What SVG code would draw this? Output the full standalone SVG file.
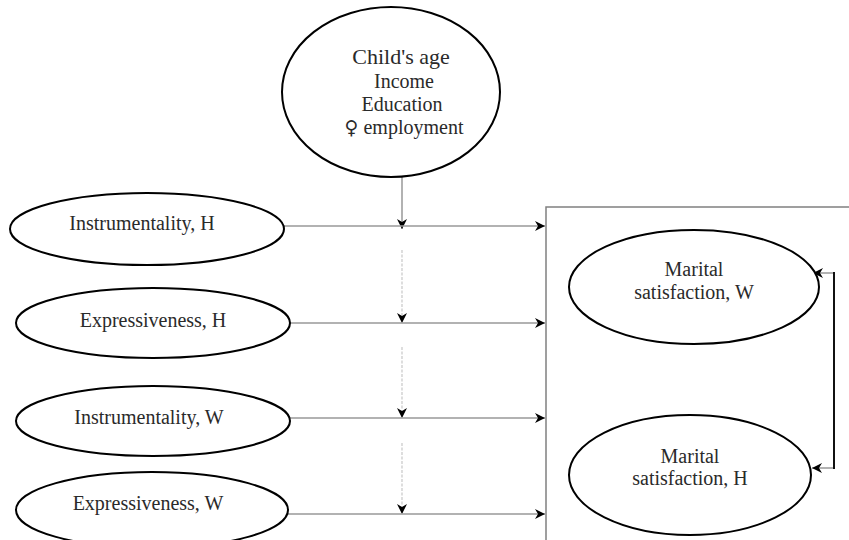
<svg xmlns="http://www.w3.org/2000/svg" width="849" height="540" viewBox="0 0 849 540">
<defs>
<style>
.node ellipse{fill:#fff;stroke:#000;stroke-width:2}
.t{font-family:"Liberation Serif","Times New Roman",serif;font-size:20px;fill:#2a2a2a;text-anchor:middle}
.big{font-size:22px}
.sym{font-family:"DejaVu Serif","DejaVu Sans",serif;font-size:19px}
.c{fill:none;stroke:#999;stroke-width:1.5}
.d{fill:none;stroke:#ccc;stroke-width:1.3;stroke-dasharray:3,1.5}
.k{fill:none;stroke:#111;stroke-width:2}
</style>
<marker id="ah" viewBox="0 0 10 10" refX="10" refY="5" markerWidth="10" markerHeight="10" markerUnits="userSpaceOnUse" orient="auto-start-reverse">
<path d="M0,0 L10,5 L0,10 L3,5 z" fill="#000"/>
</marker>
</defs>
<rect x="0" y="0" width="849" height="540" fill="#fff"/>
<g id="connectors">
<rect x="546" y="207" width="320" height="360" fill="none" stroke="#808080" stroke-width="1.5"/>
<line class="c" x1="402" y1="177" x2="402" y2="229" marker-end="url(#ah)"/>
<line class="d" x1="402" y1="250" x2="402" y2="323" marker-end="url(#ah)"/>
<line class="d" x1="402" y1="347" x2="402" y2="418" marker-end="url(#ah)"/>
<line class="d" x1="402" y1="443" x2="402" y2="514" marker-end="url(#ah)"/>
<line class="c" x1="284" y1="226" x2="545" y2="226" marker-end="url(#ah)"/>
<line class="c" x1="290" y1="323" x2="545" y2="323" marker-end="url(#ah)"/>
<line class="c" x1="290" y1="418" x2="545" y2="418" marker-end="url(#ah)"/>
<line class="c" x1="285" y1="514" x2="545" y2="514" marker-end="url(#ah)"/>
<path class="c" d="M813,273 H834" marker-start="url(#ah)"/>
<path class="c" d="M834,468 H812" marker-end="url(#ah)"/>
<line class="k" x1="834" y1="272" x2="834" y2="469"/>
</g>
<g id="covariates" class="node">
<ellipse cx="391" cy="92" rx="109" ry="85"/>
<text class="t big" x="401" y="64">Child's age</text>
<text class="t" x="404" y="88">Income</text>
<text class="t" x="402" y="111">Education</text>
<text class="t" x="404" y="134"><tspan class="sym">♀</tspan> employment</text>
</g>
<g id="instr-h" class="node">
<ellipse cx="147" cy="229" rx="137" ry="36"/>
<text class="t" x="142" y="230">Instrumentality, H</text>
</g>
<g id="expr-h" class="node">
<ellipse cx="153" cy="323" rx="137" ry="35"/>
<text class="t" x="153" y="327">Expressiveness, H</text>
</g>
<g id="instr-w" class="node">
<ellipse cx="153" cy="421" rx="137" ry="35"/>
<text class="t" x="149" y="424">Instrumentality, W</text>
</g>
<g id="expr-w" class="node">
<ellipse cx="152" cy="510" rx="136" ry="38"/>
<text class="t" x="148" y="510">Expressiveness, W</text>
</g>
<g id="ms-w" class="node">
<ellipse cx="694" cy="287" rx="125" ry="57"/>
<text class="t" x="694" y="276">Marital</text>
<text class="t" x="694" y="299">satisfaction, W</text>
</g>
<g id="ms-h" class="node">
<ellipse cx="690" cy="475" rx="121" ry="60"/>
<text class="t" x="690" y="463">Marital</text>
<text class="t" x="690" y="485">satisfaction, H</text>
</g>
</svg>
